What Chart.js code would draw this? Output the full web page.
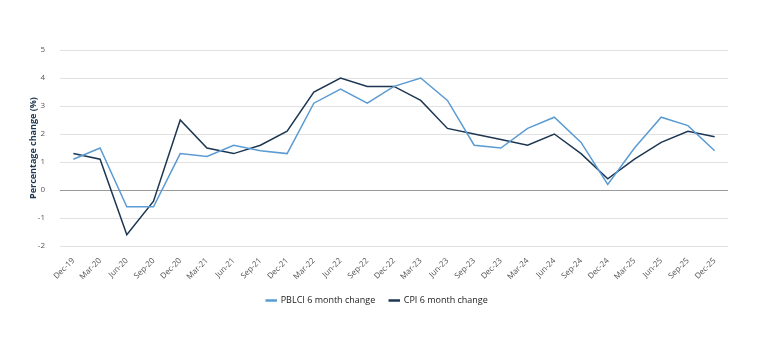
<!DOCTYPE html>
<html>
<head>
<meta charset="utf-8">
<script src="https://cdn.jsdelivr.net/npm/chart.js@4/dist/chart.umd.min.js"></script>
<style>
  html, body { margin: 0; padding: 0; background: #fff; }
  #wrap { width: 762px; height: 343px; }
</style>
</head>
<body>
<div id="wrap"><canvas id="chart" width="762" height="343"></canvas></div>
<script>
// Quarterly labels, Dec-19 to Dec-25
const quarters = ['Dec-19','Mar-20','Jun-20','Sep-20','Dec-20','Mar-21','Jun-21','Sep-21','Dec-21',
  'Mar-22','Jun-22','Sep-22','Dec-22','Mar-23','Jun-23','Sep-23','Dec-23','Mar-24','Jun-24',
  'Sep-24','Dec-24','Mar-25','Jun-25','Sep-25','Dec-25'];

// 6 month % change
const pblci = [1.1, 1.5, -0.6, -0.6, 1.3, 1.2, 1.6, 1.4, 1.3, 3.1, 3.6, 3.1, 3.7, 4.0, 3.2, 1.6, 1.5,
  2.2, 2.6, 1.7, 0.2, 1.5, 2.6, 2.3, 1.4];
const cpi = [1.3, 1.1, -1.6, -0.4, 2.5, 1.5, 1.3, 1.6, 2.1, 3.5, 4.0, 3.7, 3.7, 3.2, 2.2, 2.0, 1.8,
  1.6, 2.0, 1.3, 0.4, 1.1, 1.7, 2.1, 1.9];

const yMin = -2;
const yMax = 5;

const FONT = '"Open Sans", "Noto Sans", sans-serif';
const LIGHT = '#5a9bd3';
const DARK = '#1d3652';

new Chart(document.getElementById('chart'), {
  type: 'line',
  data: {
    labels: quarters,
    datasets: [
      {
        label: 'PBLCI 6 month change',
        data: pblci,
        borderColor: LIGHT,
        backgroundColor: LIGHT,
        borderWidth: 1.5,
        pointRadius: 0,
        tension: 0
      },
      {
        label: 'CPI 6 month change',
        data: cpi,
        borderColor: DARK,
        backgroundColor: DARK,
        borderWidth: 1.5,
        pointRadius: 0,
        tension: 0
      }
    ]
  },
  options: {
    responsive: false,
    animation: false,
    layout: { padding: { left: 26, right: 34, top: 50, bottom: 28 } },
    plugins: {
      tooltip: { enabled: false },
      legend: {
        position: 'bottom',
        labels: {
          boxWidth: 10,
          boxHeight: 1,
          padding: 14,
          color: '#222',
          font: { family: FONT, size: 9 }
        }
      }
    },
    scales: {
      x: {
        offset: true,
        grid: { display: false },
        border: { display: false },
        ticks: {
          color: '#555',
          font: { family: FONT, size: 8 },
          maxRotation: 45,
          minRotation: 45,
          autoSkip: false,
          padding: 2
        },
        afterFit(scale) { scale.height = 36; }
      },
      y: {
        min: yMin,
        max: yMax,
        border: { display: false },
        grid: {
          drawTicks: false,
          lineWidth: 1,
          color: ctx => ctx.tick && ctx.tick.value === 0 ? '#9a9a9a' : '#e1e1e1'
        },
        ticks: {
          stepSize: 1,
          color: '#555',
          padding: 15,
          font: { family: FONT, size: 8 }
        },
        title: {
          display: true,
          text: 'Percentage change (%)',
          color: '#1d3652',
          padding: 2,
          font: { family: FONT, size: 9, weight: 'bold' }
        },
        afterFit(scale) { scale.width = 34; }
      }
    }
  }
});
</script>
</body>
</html>
